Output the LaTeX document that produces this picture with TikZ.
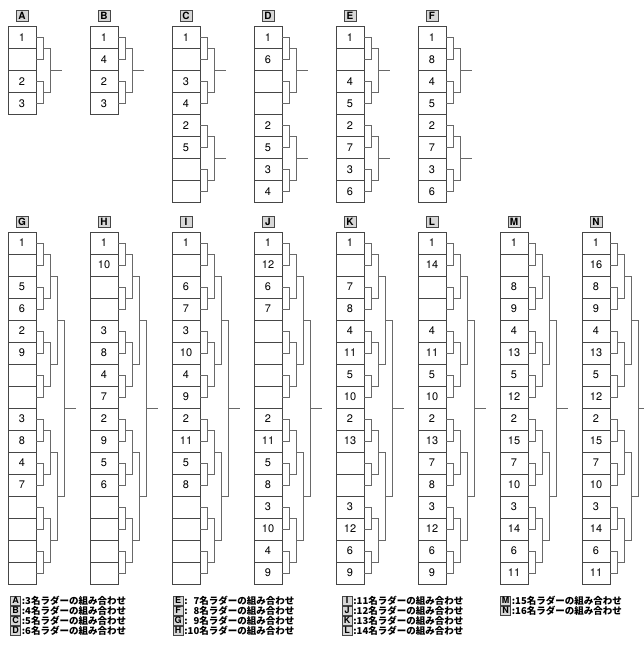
\documentclass[tikz,border=0pt]{standalone}
\usepackage{fontspec}
\setmainfont{TeX Gyre Heros}
\newfontfamily\jpfont{Noto Sans CJK JP}
\usepackage{tikz}
\usetikzlibrary{calc}
\definecolor{lsFrame}{RGB}{70,70,70}
\definecolor{lsWire}{RGB}{105,105,105}
\definecolor{lsTagFill}{RGB}{215,215,215}

\tikzset{
  seat/.style={draw=lsFrame, line width=0.7pt, minimum width=28pt, minimum height=22pt,
    inner sep=0pt, font=\fontsize{11}{12}\selectfont},
  wire/.style={draw=lsWire, line width=0.7pt},
  tag/.style={draw=lsFrame, fill=lsTagFill, minimum width=12pt, minimum height=11pt,
    inner sep=0pt, font=\bfseries\fontsize{10}{11}\selectfont},
  keytag/.style={tag, minimum width=10pt, minimum height=9pt, font=\bfseries\fontsize{9}{9}\selectfont},
  keytext/.style={anchor=west, inner sep=0pt, font=\jpfont\bfseries\fontsize{9.5}{10}\selectfont},
}

% #1 ladder letter, #2 left, #3 top, #4 seeds from top to bottom
\newcommand{\ladder}[4]{%
  \node[tag] (#1-tag) at (#2+14,#3-10.5) {#1};
  \foreach \v [count=\i] in {#4} {
    \node[seat] (#1-\i) at (#2+14,#3+22*\i-11) {\v};
    \coordinate (#1-0-\i) at (#1-\i.east);
  }
}
% #1 ladder letter, #2 round, #3 number of brackets in that round
\newcommand{\tier}[3]{%
  \foreach \g in {1,...,#3} {
    \pgfmathtruncatemacro\ga{2*\g-1}
    \pgfmathtruncatemacro\gb{2*\g}
    \pgfmathtruncatemacro\lv{#2-1}
    \coordinate (#1-#2-\g) at ($(#1-\lv-\ga)!0.5!(#1-\lv-\gb)+(7,0)$);
    \draw[wire] (#1-\lv-\ga) -| (#1-#2-\g) |- (#1-\lv-\gb);
  }
}
\newcommand{\outlet}[2]{%
  \coordinate (#1-out-#2) at ($(#1-#2)+(12,0)$);
  \draw[wire] (#1-#2) -- (#1-out-#2);
}

\begin{document}
\begin{tikzpicture}[x=1pt, y=-1pt]
\useasboundingbox (0,0) rectangle (643,648);

\ladder{A}{8}{26.5}{1,{},2,3}
\tier{A}{1}{2}\tier{A}{2}{1}\outlet{A}{2-1}
\ladder{B}{90}{26.5}{1,4,2,3}
\tier{B}{1}{2}\tier{B}{2}{1}\outlet{B}{2-1}
\ladder{C}{172}{26.5}{1,{},3,4,2,5,{},{}}
\tier{C}{1}{4}\tier{C}{2}{2}\outlet{C}{2-1}\outlet{C}{2-2}
\ladder{D}{254}{26.5}{1,6,{},{},2,5,3,4}
\tier{D}{1}{4}\tier{D}{2}{2}\outlet{D}{2-1}\outlet{D}{2-2}
\ladder{E}{336}{26.5}{1,{},4,5,2,7,3,6}
\tier{E}{1}{4}\tier{E}{2}{2}\outlet{E}{2-1}\outlet{E}{2-2}
\ladder{F}{418}{26.5}{1,8,4,5,2,7,3,6}
\tier{F}{1}{4}\tier{F}{2}{2}\outlet{F}{2-1}\outlet{F}{2-2}

\ladder{G}{8}{232}{1,{},5,6,2,9,{},{},3,8,4,7,{},{},{},{}}
\ladder{H}{90}{232}{1,10,{},{},3,8,4,7,2,9,5,6,{},{},{},{}}
\ladder{I}{172}{232}{1,{},6,7,3,10,4,9,2,11,5,8,{},{},{},{}}
\ladder{J}{254}{232}{1,12,6,7,{},{},{},{},2,11,5,8,3,10,4,9}
\ladder{K}{336}{232}{1,{},7,8,4,11,5,10,2,13,{},{},3,12,6,9}
\ladder{L}{418}{232}{1,14,{},{},4,11,5,10,2,13,7,8,3,12,6,9}
\ladder{M}{500}{232}{1,{},8,9,4,13,5,12,2,15,7,10,3,14,6,11}
\ladder{N}{582}{232}{1,16,8,9,4,13,5,12,2,15,7,10,3,14,6,11}
\foreach \k in {G,H,I,J,K,L,M,N} {
  \tier{\k}{1}{8}\tier{\k}{2}{4}\tier{\k}{3}{2}\tier{\k}{4}{1}\outlet{\k}{4-1}
}

\foreach \k/\n [count=\r from 0] in {A/3,B/4,C/5,D/6} {
  \node[keytag] (key-\k) at (15.5,600.5+10*\r) {\k};
  \node[keytext] (note-\k) at ([xshift=1pt]key-\k.east) {:{\n}名ラダーの組み合わせ};
}
\foreach \k/\n [count=\r from 0] in {E/\phantom{1}7,F/\phantom{1}8,G/\phantom{1}9,H/10} {
  \node[keytag] (key-\k) at (178,600.5+10*\r) {\k};
  \node[keytext] (note-\k) at ([xshift=1pt]key-\k.east) {:{\n}名ラダーの組み合わせ};
}
\foreach \k/\n [count=\r from 0] in {I/11,J/12,K/13,L/14} {
  \node[keytag] (key-\k) at (347,600.5+10*\r) {\k};
  \node[keytext] (note-\k) at ([xshift=1pt]key-\k.east) {:{\n}名ラダーの組み合わせ};
}
\foreach \k/\n [count=\r from 0] in {M/15,N/16} {
  \node[keytag] (key-\k) at (505.5,600.5+10*\r) {\k};
  \node[keytext] (note-\k) at ([xshift=1pt]key-\k.east) {:{\n}名ラダーの組み合わせ};
}
\end{tikzpicture}
\end{document}
